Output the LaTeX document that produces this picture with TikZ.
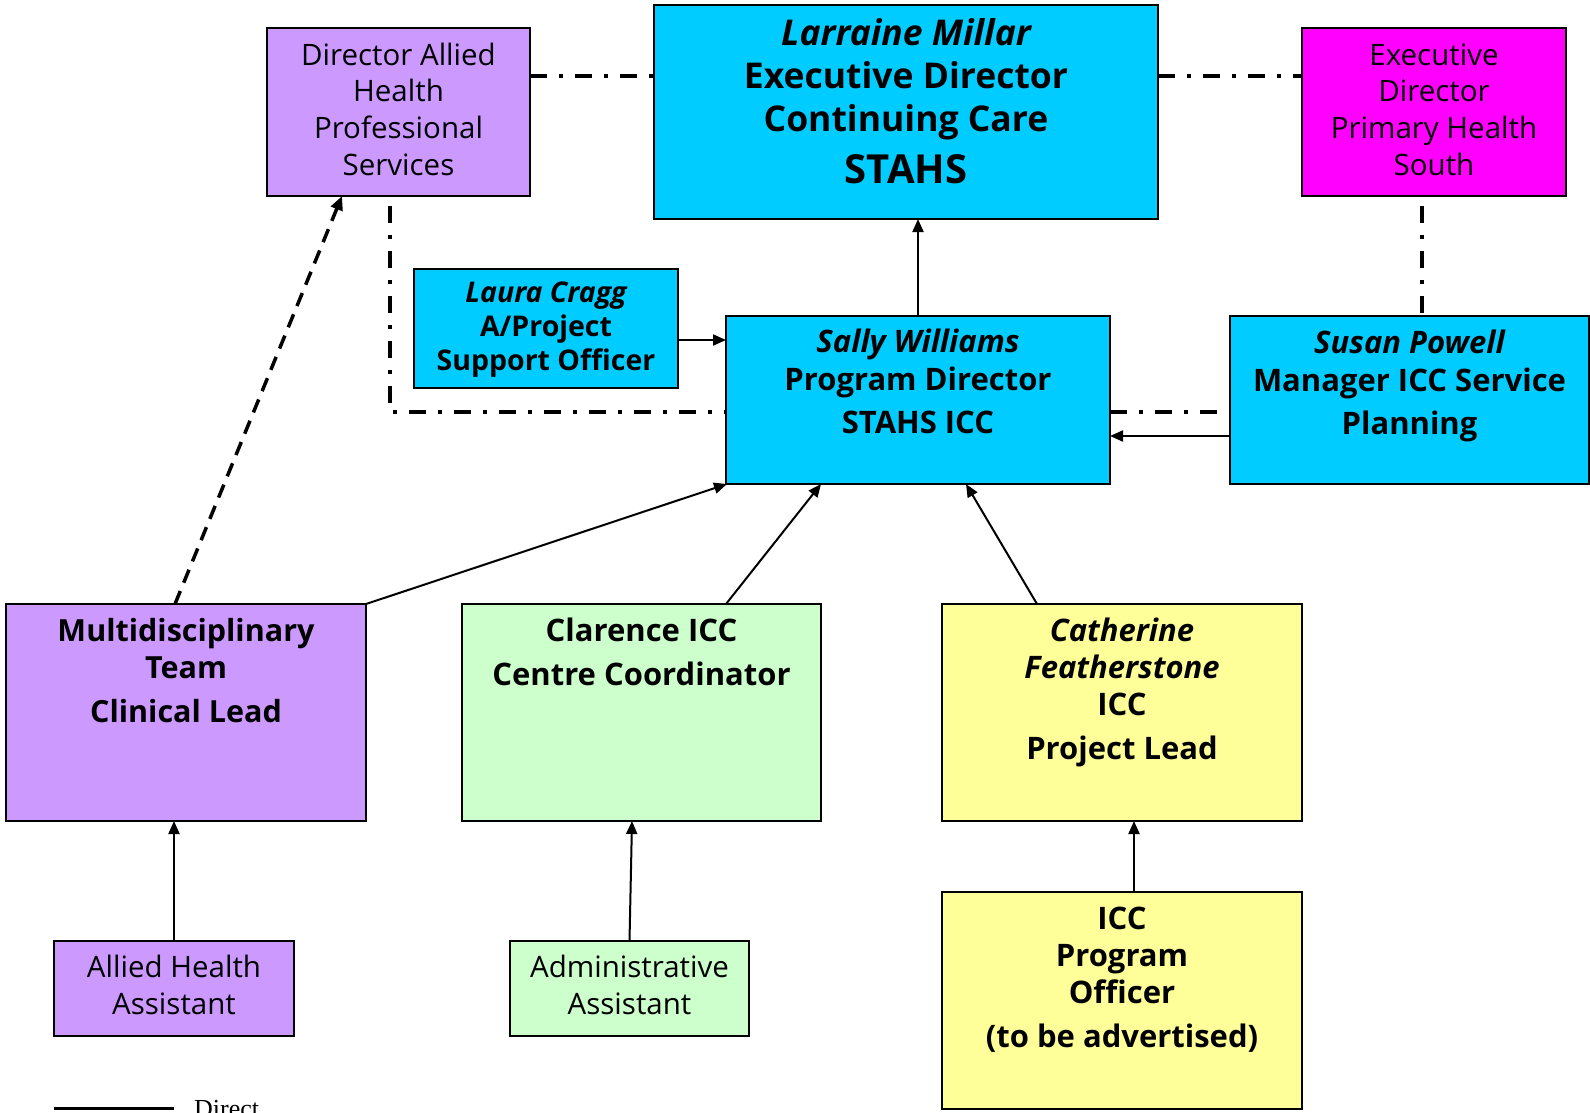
\documentclass[tikz,border=0pt]{standalone}
\usepackage{fontspec}
\setmainfont{Open Sans}
\newfontfamily\legfont{Liberation Serif}
\usetikzlibrary{arrows.meta}
\definecolor{cPurple}{HTML}{CC99FF}
\definecolor{cCyan}{HTML}{00CCFF}
\definecolor{cMagenta}{HTML}{FF00FF}
\definecolor{cGreen}{HTML}{CCFFCC}
\definecolor{cYellow}{HTML}{FFFF99}
\newcommand{\tstr}{\rule{0pt}{30pt}}
\begin{document}
\begin{tikzpicture}[x=1pt,y=-1pt,
  orgbox/.style={draw=black, line width=2.2pt, inner sep=0pt, outer sep=0pt, anchor=north west},
  lbl/.style={anchor=north, inner sep=0pt, align=center},
  regtext/.style={font=\fontsize{29.5}{36.7}\selectfont},
  boldtext/.style={font=\fontsize{31}{38}\selectfont\bfseries},
  arr/.style={line width=2pt, -{Triangle[length=13pt,width=11pt]}},
  dd/.style={line width=3.5pt, dash pattern=on 17pt off 12pt on 4pt off 12pt},
  dsh/.style={line width=3.5pt, dash pattern=on 14pt off 9pt, -{Triangle[length=14pt,width=12pt]}}]
\useasboundingbox (0,0) rectangle (1590,1112);

% boxes
\node[orgbox, fill=cPurple, minimum width=263pt, minimum height=168pt] (DA) at (267,28) {};
\node[orgbox, fill=cCyan, minimum width=504pt, minimum height=214pt] (LM) at (654,5) {};
\node[orgbox, fill=cMagenta, minimum width=264pt, minimum height=168pt] (EP) at (1302,28) {};
\node[orgbox, fill=cCyan, minimum width=264pt, minimum height=119pt] (LC) at (414,269) {};
\node[orgbox, fill=cCyan, minimum width=384pt, minimum height=168pt] (SW) at (726,316) {};
\node[orgbox, fill=cCyan, minimum width=359pt, minimum height=168pt] (SP) at (1230,316) {};
\node[orgbox, fill=cPurple, minimum width=360pt, minimum height=217pt] (MT) at (6,604) {};
\node[orgbox, fill=cGreen, minimum width=359pt, minimum height=217pt] (CL) at (462,604) {};
\node[orgbox, fill=cYellow, minimum width=360pt, minimum height=217pt] (CF) at (942,604) {};
\node[orgbox, fill=cPurple, minimum width=240pt, minimum height=95pt] (AH) at (54,941) {};
\node[orgbox, fill=cGreen, minimum width=239pt, minimum height=95pt] (AA) at (510,941) {};
\node[orgbox, fill=cYellow, minimum width=360pt, minimum height=217pt] (PO) at (942,892) {};

% texts
\node[lbl, regtext] (DAt) at (398.5,35) {\tstr Director Allied\\Health\\Professional\\Services};
\node[lbl, font=\fontsize{35.5}{43}\selectfont\bfseries] (LMt) at (906,15)
  {\tstr\itshape Larraine Millar\\Executive Director\\Continuing Care\\[9pt]{\fontsize{40}{43}\selectfont STAHS}};
\node[lbl, regtext] (EPt) at (1434,35) {\tstr Executive\\Director\\Primary Health\\South};
\node[lbl, font=\fontsize{28.5}{34}\selectfont\bfseries] (LCt) at (546,272) {\tstr\itshape Laura Cragg\\A/Project\\Support Officer};
\node[lbl, boldtext] (SWt) at (918,322) {\tstr\itshape Sally Williams\\Program Director\\[5pt]STAHS ICC};
\node[lbl, boldtext] (SPt) at (1409.5,323) {\tstr\itshape Susan Powell\\Manager ICC Service\\[5pt]Planning};
\node[lbl, font=\fontsize{30.5}{37}\selectfont\bfseries] (MTt) at (186,611) {\tstr Multidisciplinary\\Team\\[7pt]Clinical Lead};
\node[lbl, font=\fontsize{31}{44}\selectfont\bfseries] (CLt) at (641.5,611) {\tstr Clarence ICC\\Centre Coordinator};
\node[lbl, font=\fontsize{31}{37}\selectfont\bfseries] (CFt) at (1122,611) {\tstr\itshape Catherine\\\itshape Featherstone\\ICC\\[7pt]Project Lead};
\node[lbl, font=\fontsize{29.5}{37}\selectfont] (AHt) at (174,947) {\tstr Allied Health\\Assistant};
\node[lbl, font=\fontsize{29.5}{37}\selectfont] (AAt) at (629.5,947) {\tstr Administrative\\Assistant};
\node[lbl, font=\fontsize{31}{37}\selectfont\bfseries] (POt) at (1122,899) {\tstr ICC\\Program\\Officer\\[7pt](to be advertised)};

% dash-dot links
\draw[dd] ([yshift=36pt]DA.east) -- ([yshift=36pt]LM.west);
\draw[dd] ([yshift=36pt]LM.east) -- ([yshift=36pt]EP.west);
\draw[dd] ([xshift=-12pt,yshift=-10pt]EP.south) -- ([xshift=-12pt]EP.south |- SP.north);
\draw[dd] ([xshift=-8.5pt,yshift=-10pt]DA.south) |- ([yshift=-12pt]SW.west);
\draw[dd] ([yshift=-12pt]SW.east) -- ([yshift=-12pt]SP.west);

% solid arrows
\draw[arr] ([yshift=-36pt]SP.west) -- ([yshift=-36pt]SW.east);
\draw[arr] ([yshift=-11.5pt]LC.east) -- ([yshift=-11.5pt]LC.east -| SW.west);
\draw[arr] (SW.north) -- (SW.north |- LM.south);
\draw[arr] (MT.north east) -- ([xshift=1pt]SW.south west);
\draw[arr] ([xshift=84.5pt]CL.north) -- ([xshift=95pt]SW.south west);
\draw[arr] ([xshift=-85pt]CF.north) -- ([xshift=240pt]SW.south west);
\draw[arr] (AH.north) -- (AH.north |- MT.south);
\draw[arr] (AA.north) -- ([xshift=-9.5pt]CL.south);
\draw[arr] ([xshift=12pt]PO.north) -- ([xshift=12pt]CF.south);

% dashed
\draw[dsh] ([xshift=-11pt]MT.north) -- ([xshift=75pt]DA.south west);

% legend (cut off at the bottom edge, as in the reference)
\coordinate (L1) at (54,1108);
\coordinate (L2) at (174,1108);
\draw[line width=3pt] (L1) -- (L2);
\node[anchor=base west, inner sep=0pt, font=\legfont\fontsize{26}{30}\selectfont] (legtxt) at (194,1117) {Direct};
\end{tikzpicture}
\end{document}
